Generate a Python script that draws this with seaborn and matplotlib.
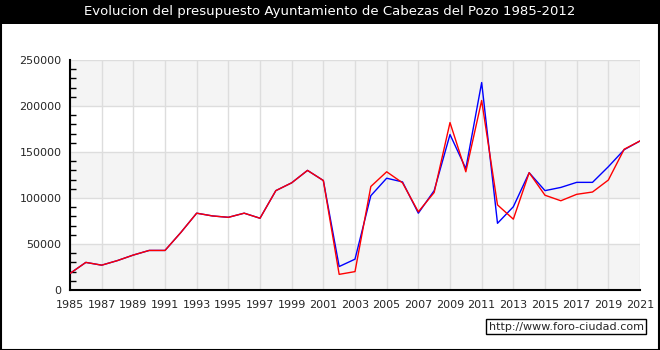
import matplotlib
matplotlib.use("Agg")
import matplotlib.pyplot as plt
from matplotlib.patches import Rectangle
from matplotlib.ticker import MultipleLocator
import seaborn as sns
import pandas as pd

years = list(range(1985, 2022))
ingresos = [18000, 30000, 27000, 32000, 38000, 43000, 43000, 62500, 83500, 80500, 79000, 83500, 78000,
            108000, 116500, 130000, 119000, 25500, 33500, 102500, 121500, 117500, 83500, 108000,
            169000, 132000, 225500, 72500, 90500, 127500, 108000, 111500, 117000, 117000, 134000,
            152500, 162000]
gastos = [18000, 30000, 27000, 32000, 38000, 43000, 43000, 62500, 83500, 80500, 79000, 83500, 78000,
          108000, 116500, 130000, 119000, 17000, 20000, 112500, 128500, 116500, 85000, 106000,
          182000, 128500, 206000, 92500, 77000, 127500, 103000, 97000, 104000, 106500, 119500,
          153000, 162000]
yticks = [0, 50000, 100000, 150000, 200000, 250000]
xticks = list(range(1985, 2022, 2))
title = "Evolucion del presupuesto Ayuntamiento de Cabezas del Pozo 1985-2012"
watermark = "http://www.foro-ciudad.com"

df = pd.DataFrame({"year": years + years,
                   "value": ingresos + gastos,
                   "serie": ["Ingresos"] * len(years) + ["Gastos"] * len(years)})

sns.set_style("white")
plt.rcParams["font.family"] = ["DejaVu Sans"]

fig = plt.figure(figsize=(6.6, 3.5), dpi=100)
ax = fig.add_axes([70 / 660, 1 - 290 / 350, 570 / 660, 230 / 350])

# alternating bands
for i, (lo, hi) in enumerate(zip(yticks[:-1], yticks[1:])):
    if i % 2 == 0:
        ax.axhspan(lo, hi, color="#f4f4f4", zorder=0, lw=0)

sns.lineplot(data=df, x="year", y="value", hue="serie", hue_order=["Ingresos", "Gastos"],
             palette={"Ingresos": "#0000ff", "Gastos": "#ff0000"}, linewidth=1.0,
             legend=False, ax=ax, zorder=3)

ax.set_xlim(1985, 2021)
ax.set_ylim(0, 250000)
ax.set_xticks(xticks)
ax.set_xticklabels([str(x) for x in xticks], fontsize=8)
ax.set_yticks(yticks)
ax.set_yticklabels([str(y) for y in yticks], fontsize=8)
ax.yaxis.set_minor_locator(MultipleLocator(10000))
ax.grid(True, which="major", color="#dddddd", linewidth=1.0, zorder=1)
ax.set_axisbelow(True)
ax.set_xlabel("")
ax.set_ylabel("")
ax.tick_params(axis="both", which="major", direction="in", length=5, width=1, color="black")
ax.tick_params(axis="x", which="major", pad=7)
ax.tick_params(axis="y", which="major", pad=6)
ax.tick_params(axis="y", which="minor", direction="in", length=4, width=1, color="black", left=True)
for s in ["top", "right"]:
    ax.spines[s].set_visible(False)
for s in ["left", "bottom"]:
    ax.spines[s].set_color("black")
    ax.spines[s].set_linewidth(1.5)

# black title bar and frame
fig.patches.append(Rectangle((0, 1 - 24 / 350), 1, 24 / 350, transform=fig.transFigure,
                             facecolor="black", edgecolor="none", zorder=0))
fig.patches.append(Rectangle((0.5 / 660, 0.5 / 350), 658.5 / 660, 349 / 350, transform=fig.transFigure,
                             facecolor="none", edgecolor="black", linewidth=1.5, zorder=5))
fig.text(0.5, 1 - 12 / 350, title, color="white", fontsize=9.5, ha="center", va="center")
fig.text(566 / 660, 1 - 326.5 / 350, watermark, fontsize=8, ha="center", va="center",
         bbox=dict(boxstyle="square,pad=0.25", facecolor="white", edgecolor="black", linewidth=1))

fig.savefig("out.png", dpi=100)
